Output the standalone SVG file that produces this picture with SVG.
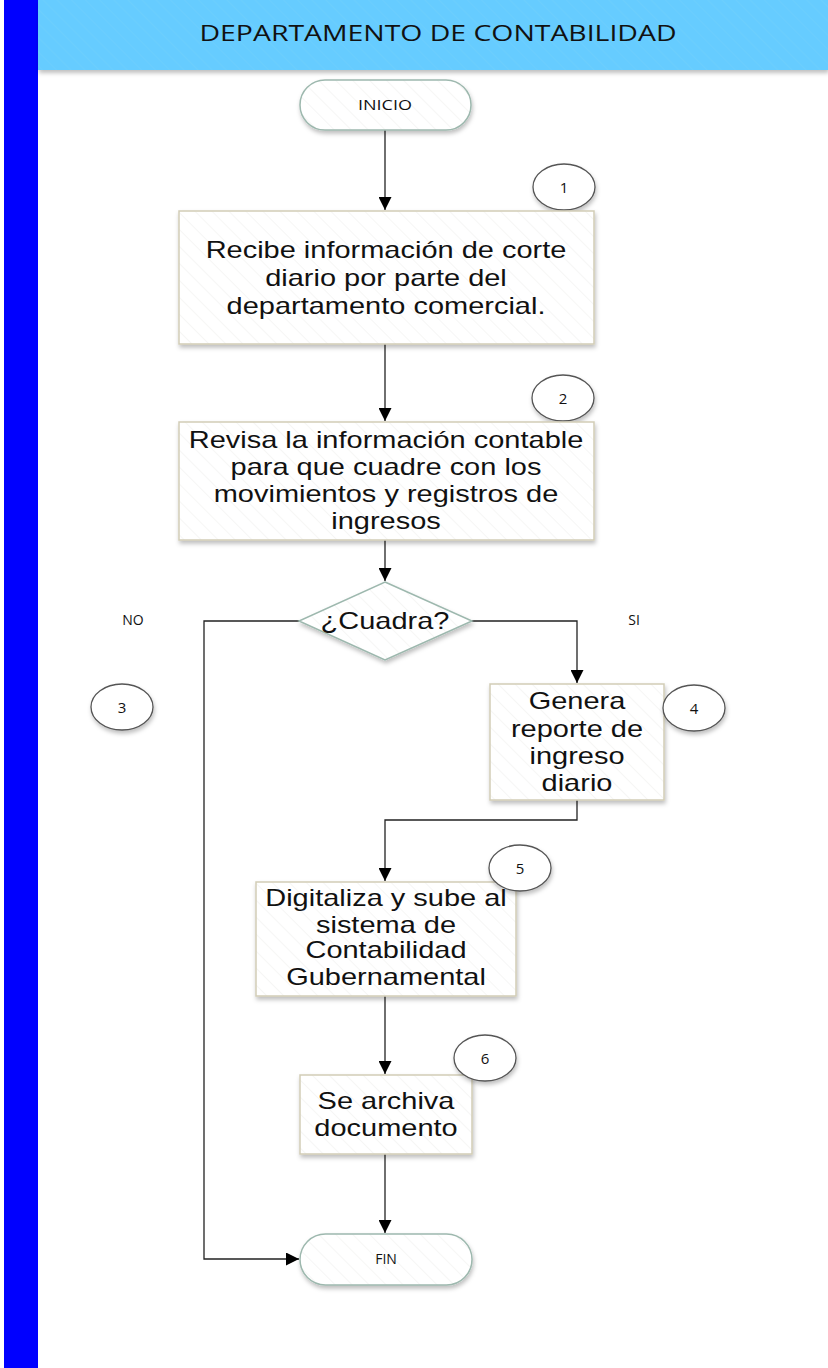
<svg xmlns="http://www.w3.org/2000/svg" width="828" height="1368" viewBox="0 0 828 1368">
<style>
.box{fill:url(#hatch);stroke:#d2cdb6;stroke-width:1.5;filter:url(#sh)}
.pill{fill:url(#hatch);stroke:#9db8ae;stroke-width:1.5;filter:url(#sh)}
.num{fill:#fff;stroke:#555;stroke-width:1.3;filter:url(#sh)}
.t{font-family:"Liberation Sans",Arial,sans-serif;font-size:23px;fill:#111;text-anchor:middle}
.s{font-family:"Open Sans","Liberation Sans",sans-serif;font-size:14px;fill:#111;text-anchor:middle}
.n{font-family:"Open Sans","Liberation Sans",sans-serif;font-size:15px;fill:#111;text-anchor:middle}
.h{font-family:"Open Sans","Liberation Sans",sans-serif;font-size:21px;fill:#111;text-anchor:middle}
.c{fill:none;stroke:#222;stroke-width:1.3}
</style>
<defs>
<pattern id="hatch" patternUnits="userSpaceOnUse" width="12" height="12" patternTransform="rotate(-45)">
<rect width="12" height="12" fill="#fff"/>
<line x1="0" y1="0" x2="0" y2="12" stroke="#f4f4f2" stroke-width="1.5"/>
</pattern>
<pattern id="hhatch" patternUnits="userSpaceOnUse" width="10" height="10" patternTransform="rotate(-45)">
<rect width="10" height="10" fill="#66ccff"/>
<line x1="0" y1="0" x2="0" y2="10" stroke="#6ecffd" stroke-width="1.5"/>
</pattern>
<filter id="sh" x="-20%" y="-20%" width="140%" height="150%">
<feDropShadow dx="1" dy="3" stdDeviation="2" flood-color="#000" flood-opacity="0.25"/>
</filter>
<marker id="arr" viewBox="0 0 10 10" refX="10" refY="5" markerWidth="13" markerHeight="13" markerUnits="userSpaceOnUse" orient="auto">
<path d="M0,0 L10,5 L0,10 z" fill="#000"/>
</marker>
</defs>
<rect width="828" height="1368" fill="#fff"/>
<g id="lane">
<rect x="4" y="0" width="34" height="1368" fill="#0000ff"/>
<rect x="38" y="0" width="790" height="70" fill="url(#hhatch)" filter="url(#sh)"/>
<text class="h" x="438" y="41" textLength="477" lengthAdjust="spacingAndGlyphs">DEPARTAMENTO DE CONTABILIDAD</text>
</g>
<g id="connectors">
<path class="c" d="M385,130 V210" marker-end="url(#arr)"/>
<path class="c" d="M385,344 V421" marker-end="url(#arr)"/>
<path class="c" d="M385,540 V581" marker-end="url(#arr)"/>
<path class="c" d="M299,621 H204 V1259 H299" marker-end="url(#arr)"/>
<path class="c" d="M472,621 H577 V683" marker-end="url(#arr)"/>
<path class="c" d="M577,800 V820 H385 V881" marker-end="url(#arr)"/>
<path class="c" d="M385,996 V1074" marker-end="url(#arr)"/>
<path class="c" d="M385,1154 V1233" marker-end="url(#arr)"/>
<text class="s" x="133" y="625">NO</text>
<text class="s" x="634" y="625">SI</text>
</g>
<g id="inicio">
<rect class="pill" x="300" y="80" width="171" height="50" rx="25"/>
<text class="s" x="385" y="110" textLength="54" lengthAdjust="spacingAndGlyphs">INICIO</text>
</g>
<g id="n1">
<ellipse class="num" cx="564" cy="187" rx="31" ry="23"/>
<text class="n" x="564" y="193">1</text>
</g>
<g id="box1">
<rect class="box" x="179" y="211" width="415" height="133"/>
<g transform="translate(386 0) scale(1.26 1)">
<text class="t" x="0" y="258">Recibe información de corte</text>
<text class="t" x="0" y="286">diario por parte del</text>
<text class="t" x="0" y="314">departamento comercial.</text>
</g>
</g>
<g id="n2">
<ellipse class="num" cx="563" cy="398" rx="31" ry="23"/>
<text class="n" x="563" y="404">2</text>
</g>
<g id="box2">
<rect class="box" x="179" y="422" width="415" height="118"/>
<g transform="translate(386 0) scale(1.26 1)">
<text class="t" x="0" y="448">Revisa la información contable</text>
<text class="t" x="0" y="475">para que cuadre con los</text>
<text class="t" x="0" y="502">movimientos y registros de</text>
<text class="t" x="0" y="529">ingresos</text>
</g>
</g>
<g id="decision">
<polygon class="pill" points="385,582 472,621 385,660 299,621"/>
<g transform="translate(385 0) scale(1.26 1)">
<text class="t" x="0" y="629">¿Cuadra?</text>
</g>
</g>
<g id="n3">
<ellipse class="num" cx="122" cy="707" rx="31" ry="23"/>
<text class="n" x="122" y="713">3</text>
</g>
<g id="box4">
<rect class="box" x="490" y="684" width="174" height="116"/>
<g transform="translate(577 0) scale(1.26 1)">
<text class="t" x="0" y="709">Genera</text>
<text class="t" x="0" y="737">reporte de</text>
<text class="t" x="0" y="764">ingreso</text>
<text class="t" x="0" y="791">diario</text>
</g>
</g>
<g id="n4">
<ellipse class="num" cx="694" cy="708" rx="31" ry="23"/>
<text class="n" x="694" y="714">4</text>
</g>
<g id="box5">
<rect class="box" x="256" y="882" width="260" height="114"/>
<g transform="translate(386 0) scale(1.26 1)">
<text class="t" x="0" y="906">Digitaliza y sube al</text>
<text class="t" x="0" y="933">sistema de</text>
<text class="t" x="0" y="958">Contabilidad</text>
<text class="t" x="0" y="985">Gubernamental</text>
</g>
</g>
<g id="n5">
<ellipse class="num" cx="520" cy="868" rx="31" ry="23"/>
<text class="n" x="520" y="874">5</text>
</g>
<g id="box6">
<rect class="box" x="300" y="1075" width="172" height="79"/>
<g transform="translate(386 0) scale(1.26 1)">
<text class="t" x="0" y="1109">Se archiva</text>
<text class="t" x="0" y="1136">documento</text>
</g>
</g>
<g id="n6">
<ellipse class="num" cx="485" cy="1058" rx="31" ry="23"/>
<text class="n" x="485" y="1064">6</text>
</g>
<g id="fin">
<rect class="pill" x="300" y="1234" width="172" height="51" rx="25.5"/>
<text class="s" x="386" y="1264">FIN</text>
</g>
</svg>
